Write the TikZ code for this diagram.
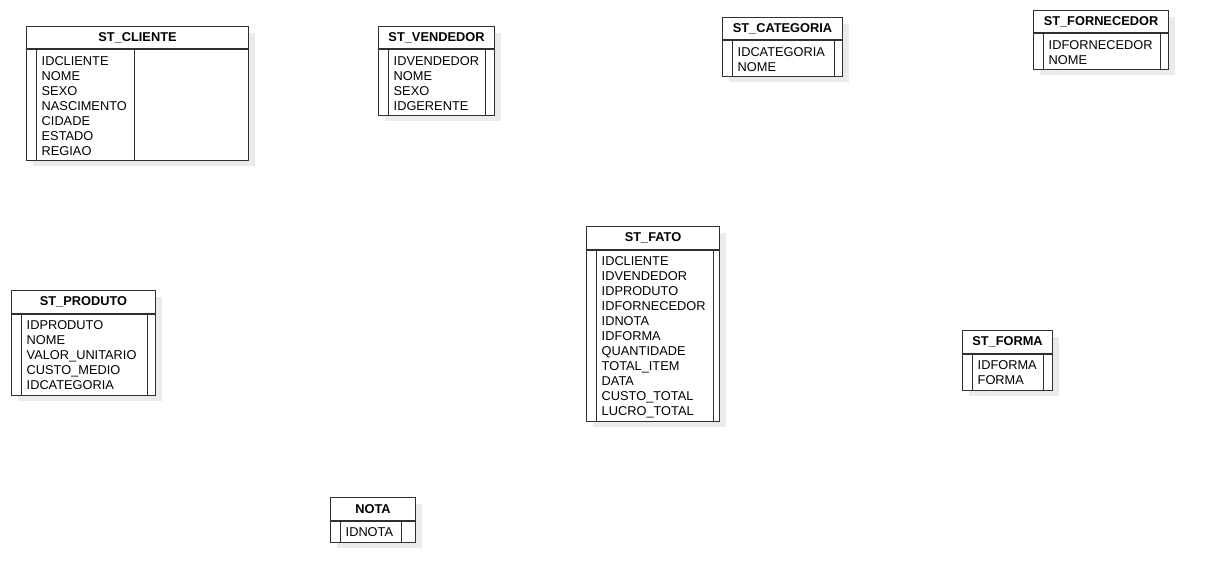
\documentclass[tikz,border=0pt]{standalone}
\usepackage{fontspec}
\setmainfont{Liberation Sans}
\usepackage{tikz}
\usetikzlibrary{positioning}

\definecolor{linha}{HTML}{303030}
\definecolor{sombracor}{HTML}{EBEBEB}

\tikzset{
  caixa/.style={draw=linha, line width=1pt, fill=white, inner sep=0pt, anchor=north west},
  titulo/.style={caixa, minimum height=22.5pt, font=\fontsize{12.8}{15}\selectfont\bfseries},
  campo/.style={anchor=base west, inner sep=0pt, font=\fontsize{12.8}{15}\selectfont},
  divisa/.style={draw=linha, line width=1pt},
  sombra/.style={fill=sombracor}
}

% tabela: nome, x, y, largura, coluna da direita, linhas, titulo, campos
\newcommand{\tabela}[8]{%
  \fill[sombra] (#2+7,#3+7) rectangle ++(#4,{22.5+#6*15+6});
  \node[titulo, minimum width=#4pt] (#1) at (#2,#3) {#7};
  \node[caixa, minimum width=#4pt, minimum height={#6*15+6}] (#1-corpo) at (#1.south west) {};
  \draw[divisa] ([xshift=10pt]#1-corpo.north west) -- ([xshift=10pt]#1-corpo.south west);
  \draw[divisa] ([xshift=-#5pt]#1-corpo.north east) -- ([xshift=-#5pt]#1-corpo.south east);
  \foreach \f [count=\i] in {#8}
    \node[campo] (#1-\i) at ([xshift=15.5pt, yshift={-16pt-(\i-1)*15pt}]#1.south west) {\f};
}

\begin{document}
\begin{tikzpicture}[x=1pt, y=-1pt]
\useasboundingbox (0,0) rectangle (1208,583);

\tabela{cliente}{26}{26}{222}{115}{7}{ST\_CLIENTE}{IDCLIENTE,NOME,SEXO,NASCIMENTO,CIDADE,ESTADO,REGIAO}
\tabela{vendedor}{378}{26}{116}{10}{4}{ST\_VENDEDOR}{IDVENDEDOR,NOME,SEXO,IDGERENTE}
\tabela{categoria}{722}{17}{120}{9}{2}{ST\_CATEGORIA}{IDCATEGORIA,NOME}
\tabela{fornecedor}{1033}{10}{135}{9}{2}{ST\_FORNECEDOR}{IDFORNECEDOR,NOME}
\tabela{produto}{11}{290}{144}{9}{5}{ST\_PRODUTO}{IDPRODUTO,NOME,VALOR\_UNITARIO,CUSTO\_MEDIO,IDCATEGORIA}
\tabela{fato}{586}{226}{133}{7}{11}{ST\_FATO}{IDCLIENTE,IDVENDEDOR,IDPRODUTO,IDFORNECEDOR,IDNOTA,IDFORMA,QUANTIDADE,TOTAL\_ITEM,DATA,CUSTO\_TOTAL,LUCRO\_TOTAL}
\tabela{forma}{962}{330}{90}{10}{2}{ST\_FORMA}{IDFORMA,FORMA}
\tabela{nota}{330}{497}{85}{15}{1}{NOTA}{IDNOTA}

\end{tikzpicture}
\end{document}
